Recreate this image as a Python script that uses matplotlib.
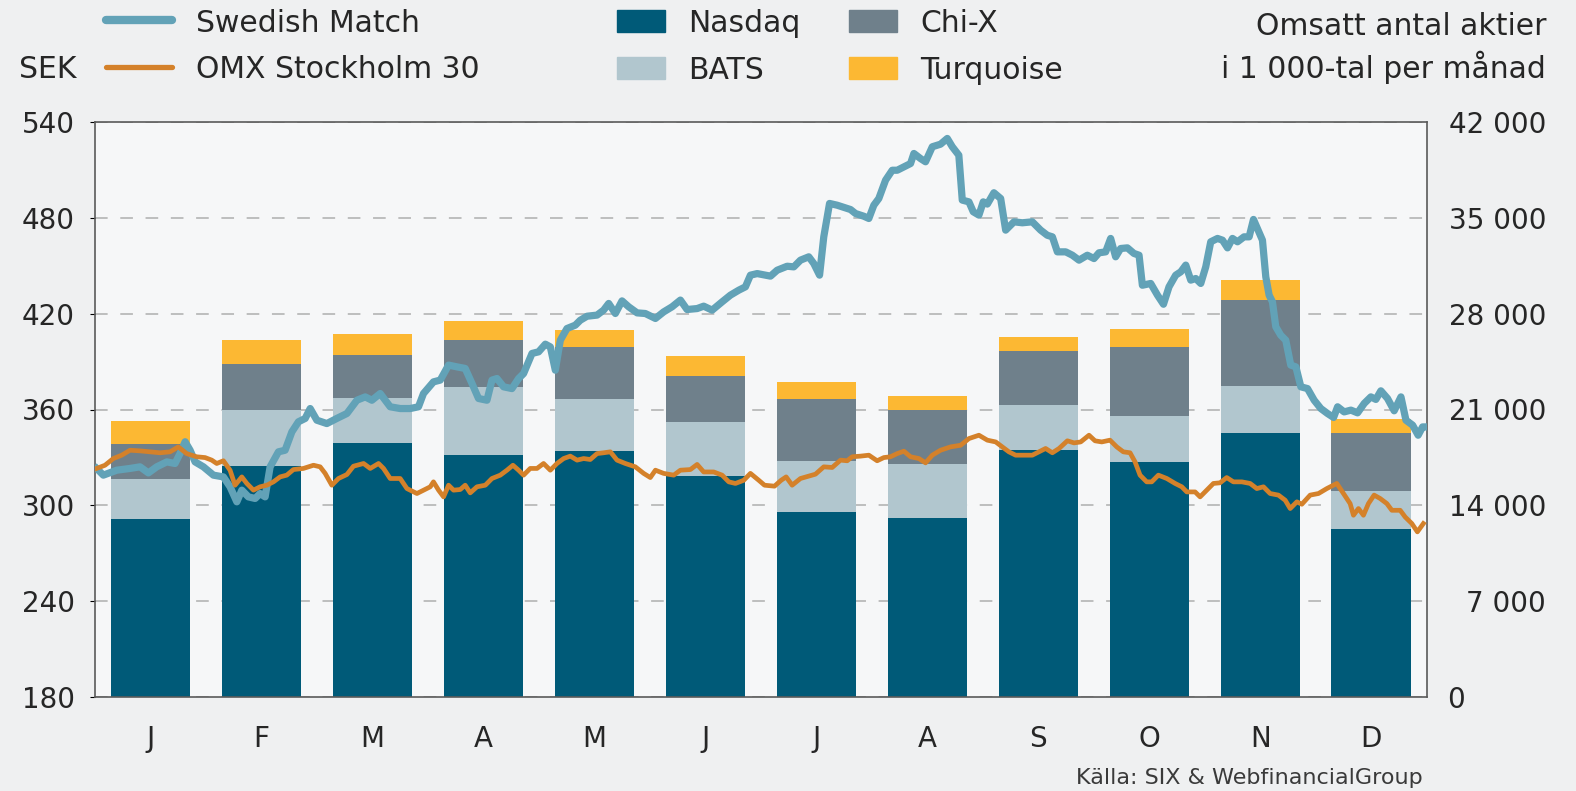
import numpy as np
import matplotlib.pyplot as plt
from matplotlib.lines import Line2D
from matplotlib.patches import Rectangle
from matplotlib.transforms import blended_transform_factory

# Månader och omsättning (tusental aktier per månad)
months = ['J', 'F', 'M', 'A', 'M', 'J', 'J', 'A', 'S', 'O', 'N', 'D']
nasdaq = [13000, 16900, 18550, 17700, 17950, 16150, 13500, 13100, 18050, 17150, 19250, 12300]
bats = [2950, 4050, 3300, 4950, 3850, 3950, 3750, 3950, 3300, 3400, 3450, 2750]
chix = [2550, 3400, 3100, 3450, 3750, 3350, 4550, 3900, 3950, 5000, 6300, 4250]
turq = [1650, 1750, 1600, 1400, 1250, 1450, 1200, 1050, 1000, 1350, 1450, 1000]

# Kurser (SEK), tid i månader från årets början
sm_t = [0.015, 0.075, 0.196, 0.316, 0.406, 0.481, 0.556, 0.647, 0.721, 0.766,
        0.812, 0.857, 0.902, 0.977, 1.067, 1.157, 1.217, 1.278, 1.323, 1.382,
        1.443, 1.488, 1.533, 1.578, 1.653, 1.713, 1.774, 1.833, 1.894, 1.939,
        1.999, 2.089, 2.179, 2.270, 2.315, 2.360, 2.435, 2.495, 2.570, 2.660,
        2.750, 2.840, 2.915, 2.960,
        3.050, 3.111, 3.186, 3.261, 3.336, 3.397, 3.456, 3.532, 3.577, 3.622,
        3.682, 3.757, 3.817, 3.862, 3.938, 3.997, 4.058, 4.103, 4.148, 4.193,
        4.253, 4.328, 4.373, 4.434, 4.524, 4.583, 4.629, 4.689, 4.749, 4.809,
        4.885, 4.959, 5.050, 5.124, 5.200, 5.275, 5.335, 5.426, 5.485, 5.561,
        5.651, 5.726, 5.801, 5.861, 5.906, 5.967,
        6.087, 6.147, 6.237, 6.297, 6.357, 6.432, 6.477, 6.529, 6.567, 6.619,
        6.688, 6.808, 6.853, 6.928, 6.973, 7.018, 7.063, 7.124, 7.184, 7.229,
        7.289, 7.349, 7.379, 7.439, 7.484, 7.545, 7.619, 7.680, 7.725, 7.784,
        7.815, 7.875, 7.914, 7.965, 8.004, 8.041, 8.100, 8.161, 8.206, 8.281,
        8.356, 8.446, 8.521, 8.581, 8.627, 8.672, 8.747, 8.807, 8.867, 8.942,
        9.002, 9.047, 9.107, 9.152, 9.197, 9.242, 9.303, 9.362, 9.408, 9.438,
        9.513, 9.574, 9.628, 9.678, 9.738, 9.784, 9.829, 9.874, 9.919, 9.964,
        10.009, 10.054, 10.115, 10.160, 10.205, 10.250, 10.295, 10.354, 10.400, 10.439,
        10.481, 10.520, 10.550, 10.580, 10.610, 10.640, 10.685, 10.730, 10.775, 10.821,
        10.866, 10.926, 10.986, 11.046, 11.106, 11.161, 11.197, 11.256, 11.317, 11.377,
        11.437, 11.497, 11.542, 11.587, 11.647, 11.707, 11.768, 11.813, 11.873, 11.923,
        11.963, 12.0]
sm_v = [323.1, 318.9, 322.0, 323.1, 324.1, 320.3, 324.1, 327.2, 326.2, 332.4,
        339.8, 334.5, 327.2, 324.1, 318.9, 317.8, 311.6, 302.2, 309.5, 305.3,
        304.3, 307.4, 305.3, 324.1, 333.5, 334.5, 346.0, 352.3, 354.4, 360.6,
        353.3, 351.2, 354.4, 357.5, 361.7, 365.8, 367.9, 365.8, 370.0, 361.7,
        360.6, 360.6, 361.7, 370.0,
        377.3, 378.4, 387.8, 386.7, 385.7, 376.3, 366.9, 365.8, 378.4, 379.4,
        374.2, 373.1, 379.4, 382.5, 395.1, 396.1, 400.9, 399.2, 384.6, 403.4,
        410.7, 412.8, 415.9, 418.4, 419.1, 422.2, 426.4, 420.1, 428.0, 424.3,
        420.5, 420.1, 417.0, 421.1, 424.3, 428.5, 422.6, 423.2, 424.7, 422.2,
        427.4, 431.6, 434.7, 436.8, 444.1, 445.1,
        443.5, 447.2, 449.7, 449.3, 453.5, 455.6, 451.4, 444.1, 468.1, 489.0,
        487.9, 485.2, 482.7, 481.0, 479.6, 487.9, 492.1, 503.6, 509.8, 509.8,
        511.9, 514.0, 520.3, 517.1, 515.1, 524.5, 526.1, 529.7, 524.5, 519.2,
        491.1, 490.0, 483.8, 481.7, 490.0, 488.6, 495.7, 492.1, 472.3, 477.5,
        476.9, 477.5, 472.3, 469.1, 468.1, 458.7, 458.7, 456.6, 453.5, 456.6,
        454.5, 458.1, 458.7, 467.1, 455.6, 460.8, 461.2, 457.7, 456.6, 437.8,
        438.9, 431.6, 425.9, 436.8, 444.1, 446.2, 450.4, 441.0, 442.0, 438.9,
        449.3, 465.0, 467.1, 466.0, 461.2, 467.1, 465.0, 468.1, 468.1, 479.0,
        472.3, 466.0, 443.1, 431.6, 427.4, 411.8, 406.5, 403.4, 387.8, 386.7,
        374.2, 373.1, 365.8, 360.6, 357.5, 355.0, 361.7, 358.5, 359.6, 357.9,
        363.8, 367.9, 366.3, 371.7, 366.9, 359.2, 367.9, 353.3, 350.2, 343.9,
        349.1, 349.1]

omx_t = [0.015, 0.090, 0.165, 0.241, 0.316, 0.406, 0.496, 0.586, 0.676, 0.751,
         0.826, 0.916, 0.992, 1.052, 1.097, 1.157, 1.217, 1.262, 1.323, 1.368,
         1.428, 1.488, 1.548, 1.608, 1.668, 1.728, 1.788, 1.878, 1.969, 2.029,
         2.074, 2.134, 2.194, 2.270, 2.329, 2.420, 2.480, 2.555, 2.600, 2.660,
         2.750, 2.811, 2.901, 2.960, 3.021,
         3.050, 3.096, 3.141, 3.186, 3.231, 3.291, 3.336, 3.381, 3.442, 3.517,
         3.577, 3.652, 3.712, 3.766, 3.817, 3.862, 3.922, 3.983, 4.042, 4.103,
         4.163, 4.223, 4.283, 4.344, 4.403, 4.463, 4.524, 4.583, 4.644, 4.704,
         4.779, 4.869, 4.944, 5.004, 5.050, 5.124, 5.215, 5.275, 5.365, 5.426,
         5.485, 5.575, 5.651, 5.711, 5.771, 5.846, 5.906, 5.981,
         6.033, 6.123, 6.183, 6.228, 6.282, 6.357, 6.432, 6.492, 6.567, 6.643,
         6.718, 6.778, 6.823, 6.898, 6.973, 7.048, 7.108, 7.168, 7.229, 7.289,
         7.349, 7.424, 7.484, 7.545, 7.619, 7.710, 7.800, 7.875, 7.965, 8.041,
         8.116, 8.176, 8.235, 8.296, 8.371, 8.446, 8.506, 8.566, 8.627, 8.687,
         8.762, 8.822, 8.882, 8.957,
         9.011, 9.072, 9.146, 9.207, 9.266, 9.327, 9.372, 9.417, 9.477, 9.522,
         9.582, 9.658, 9.733, 9.793, 9.838, 9.913, 9.958, 10.018, 10.078, 10.138,
         10.198, 10.258, 10.334, 10.409, 10.469, 10.529, 10.589, 10.664, 10.725, 10.770,
         10.830, 10.875, 10.950, 11.025, 11.100, 11.190, 11.250, 11.310, 11.340, 11.385,
         11.430, 11.475, 11.526, 11.580, 11.641, 11.686, 11.761, 11.806, 11.866, 11.916,
         11.970]
omx_v = [323.1, 325.1, 329.3, 331.4, 334.5, 334.1, 333.5, 332.9, 333.5, 336.6,
         332.4, 330.4, 329.9, 328.3, 326.2, 327.9, 322.0, 312.6, 317.8, 313.7,
         309.5, 311.6, 312.6, 314.7, 317.8, 318.9, 322.4, 323.1, 325.1, 324.1,
         320.0, 312.6, 316.8, 319.3, 324.5, 326.2, 323.1, 326.2, 323.1, 316.8,
         316.8, 310.5, 307.4, 309.5, 311.6,
         314.7, 309.5, 305.3, 312.6, 309.5, 309.9, 312.6, 307.8, 311.6, 312.6,
         316.8, 318.9, 322.0, 325.1, 322.0, 318.9, 323.1, 323.1, 326.2, 322.0,
         326.2, 329.3, 330.8, 328.3, 329.3, 328.7, 332.4, 332.9, 333.5, 328.3,
         326.2, 324.1, 320.0, 317.4, 322.0, 320.0, 318.9, 322.0, 322.4, 325.6,
         320.9, 320.9, 318.9, 314.7, 313.7, 315.7, 320.0, 315.7,
         312.6, 312.0, 315.7, 317.8, 312.6, 316.8, 318.3, 319.5, 324.1, 323.7,
         328.3, 327.9, 330.4, 330.8, 331.4, 327.9, 329.9, 330.4, 332.4, 333.9,
         330.4, 329.3, 326.6, 331.4, 334.5, 336.6, 337.6, 341.8, 343.9, 340.8,
         339.7, 336.6, 333.5, 331.4, 331.4, 331.4, 333.5, 335.6, 332.9, 335.6,
         340.4, 339.1, 339.7, 343.9,
         340.4, 339.7, 340.8, 336.6, 333.5, 332.9, 327.2, 318.9, 314.7, 314.7,
         318.9, 316.8, 313.7, 311.6, 308.4, 308.4, 305.3, 309.5, 313.7, 314.1,
         317.4, 314.7, 314.7, 313.7, 310.5, 311.6, 307.4, 306.4, 303.2, 298.0,
         302.2, 300.7, 306.4, 307.4, 310.5, 313.7, 307.4, 301.1, 293.8, 298.0,
         293.8, 301.1, 306.4, 304.3, 301.1, 296.9, 296.9, 292.7, 288.6, 283.4,
         288.6]

sek_ticks = [180, 240, 300, 360, 420, 480, 540]
vol_ticks = [0, 7000, 14000, 21000, 28000, 35000, 42000]

# färger
BG = '#eff0f1'
C_NASDAQ = '#005a78'
C_BATS = '#b1c6ce'
C_CHIX = '#6f808b'
C_TURQ = '#fcb833'
C_SM = '#62a2b7'
C_OMX = '#d4812a'
TXT = '#262626'

W, H = 1576, 791
fig = plt.figure(figsize=(W / 100, H / 100), dpi=100, facecolor=BG)


def fx(px):
    return px / W


def fy(py):
    return 1 - py / H


ax = fig.add_axes([fx(95), fy(697), fx(1426.7) - fx(95), fy(122) - fy(697)])
ax.set_facecolor('#f6f7f8')

x = np.arange(len(months)) + 0.5
bottom = np.zeros(len(months))
for vals, col in zip([nasdaq, bats, chix, turq], [C_NASDAQ, C_BATS, C_CHIX, C_TURQ]):
    ax.bar(x, vals, width=0.716, bottom=bottom, color=col, linewidth=0, zorder=2)
    bottom += np.array(vals)

ax.set_xlim(0, 12)
ax.set_ylim(0, 42000)
ax.set_yticks(vol_ticks)
ax.tick_params(axis='y', left=False, right=False, labelleft=False, labelright=False)
ax.yaxis.grid(True, color='#b9b9b9', lw=1.3, ls=(0, (7, 7)))
ax.set_axisbelow(True)
ax.set_xticks(x, months)
ax.tick_params(axis='x', length=0, pad=20, labelsize=20, labelcolor=TXT)
for s in ax.spines.values():
    s.set_color('#5a5a5a')
    s.set_linewidth(1.2)

# högra axelns etiketter
trans = blended_transform_factory(ax.transAxes, ax.transData)
for v in vol_ticks:
    lab = f"{v:,}".replace(",", " ")
    if v == 0:
        ax.text(1.0152, v, lab, ha='left', va='center_baseline', fontsize=20,
                color=TXT, transform=trans)
    else:
        ax.text(1.0896, v, lab, ha='right', va='center_baseline', fontsize=20,
                color=TXT, transform=trans)

# kurslinjer på vänster axel
ax_l = ax.twinx()
ax_l.set_ylim(180, 540)
ax_l.set_yticks(sek_ticks)
ax_l.yaxis.tick_left()
ax_l.tick_params(axis='y', length=0, pad=14.4, labelsize=20, labelcolor=TXT,
                 left=False, right=False, labelleft=True, labelright=False)
for s in ax_l.spines.values():
    s.set_visible(False)
ax_l.plot(sm_t, sm_v, color=C_SM, lw=5.2, solid_joinstyle='round', zorder=3)
ax_l.plot(omx_t, omx_v, color=C_OMX, lw=3.4, solid_joinstyle='round', zorder=4)

# legend
fig.add_artist(Line2D([fx(106), fx(172)], [fy(20), fy(20)], color=C_SM, lw=6,
                      solid_capstyle='round'))
fig.add_artist(Line2D([fx(106), fx(172)], [fy(67), fy(67)], color=C_OMX, lw=3.8,
                      solid_capstyle='round'))
fig.text(fx(196), fy(32), 'Swedish Match', fontsize=21.5, color=TXT, va='baseline')
fig.text(fx(196), fy(78), 'OMX Stockholm 30', fontsize=21.5, color=TXT, va='baseline')
fig.text(fx(19), fy(78), 'SEK', fontsize=21.5, color=TXT, va='baseline')

for (px, py, col, lab) in [(617, 10, C_NASDAQ, 'Nasdaq'), (617, 57, C_BATS, 'BATS'),
                           (849, 10, C_CHIX, 'Chi-X'), (849, 57, C_TURQ, 'Turquoise')]:
    fig.add_artist(Rectangle((fx(px), fy(py + 22)), fx(48), 22 / H, color=col,
                             transform=fig.transFigure))
    fig.text(fx(px + 71), fy(py + 22), lab, fontsize=21.5, color=TXT, va='baseline')

fig.text(fx(1546), fy(35), 'Omsatt antal aktier', fontsize=21.5, color=TXT,
         ha='right', va='baseline')
fig.text(fx(1546), fy(78), 'i 1 000-tal per månad', fontsize=21.5, color=TXT,
         ha='right', va='baseline')

fig.text(fx(1423), fy(784), 'Källa: SIX & WebfinancialGroup', fontsize=16,
         color='#3a3a3a', ha='right', va='baseline')

fig.savefig('out.png', dpi=100, facecolor=BG)
